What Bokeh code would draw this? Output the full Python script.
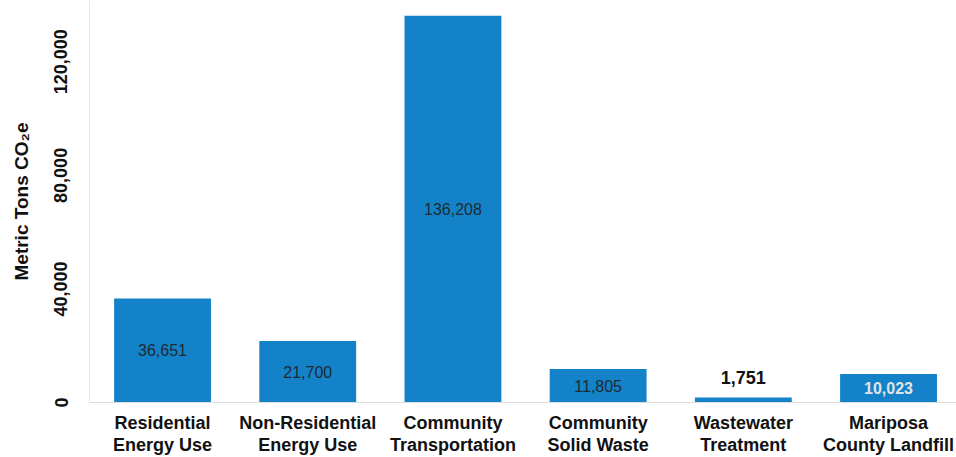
from bokeh.plotting import figure
from bokeh.models import ColumnDataSource, FixedTicker, NumeralTickFormatter, Range1d
from bokeh.embed import file_html
from bokeh.resources import INLINE
from bokeh.core.properties import value

categories = ["Residential\nEnergy Use", "Non-Residential\nEnergy Use",
              "Community\nTransportation", "Community\nSolid Waste",
              "Wastewater\nTreatment", "Mariposa\nCounty Landfill"]
emissions = [36651, 21700, 136208, 11805, 1751, 10023]
y_ticks = [0, 40000, 80000, 120000]

FONT = "Liberation Sans"
BLUE = "#1382C8"

idx = list(range(len(categories)))
labels = [f"{v:,}" for v in emissions]

p = figure(width=956, height=457, output_backend="svg", toolbar_location=None,
           x_range=Range1d(-0.503, 5.468), y_range=Range1d(0, 141600),
           min_border_left=89, min_border_right=0, min_border_top=0, min_border_bottom=52)
p.outline_line_color = None
p.xgrid.visible = False
p.ygrid.visible = False
p.background_fill_color = "white"

src = ColumnDataSource(dict(x=idx, top=emissions))
p.vbar(x="x", top="top", width=0.667, bottom=0, source=src,
       fill_color=BLUE, line_color=None)

# labels inside the taller bars
last = len(emissions) - 1
inside = [i for i, v in enumerate(emissions) if v > 5000]
in_src = ColumnDataSource(dict(
    x=[idx[i] for i in inside],
    y=[emissions[i] / 2 for i in inside],
    text=[labels[i] for i in inside],
    color=["#1f2a33" if i != last else "#e4e4e4" for i in inside],
    style=["normal" if i != last else "bold" for i in inside],
))
p.text(x="x", y="y", text="text", source=in_src, text_color="color",
       text_font=value(FONT), text_font_size="16px", text_font_style="style",
       text_align="center", text_baseline="middle")

# label above the short bar
outside = [i for i, v in enumerate(emissions) if v <= 5000]
out_src = ColumnDataSource(dict(
    x=[idx[i] for i in outside],
    y=[emissions[i] for i in outside],
    text=[labels[i] for i in outside],
))
p.text(x="x", y="y", text="text", source=out_src, text_color="#111111",
       text_font=value(FONT), text_font_size="18px", text_font_style="bold",
       text_align="center", text_baseline="middle", y_offset=-20)

# x axis
xa = p.xaxis[0]
xa.ticker = FixedTicker(ticks=idx)
xa.major_label_overrides = {i: c for i, c in zip(idx, categories)}
xa.major_tick_line_color = None
xa.minor_tick_line_color = None
xa.axis_line_color = "#dcdcdc"
xa.major_label_text_font = FONT
xa.major_label_text_font_style = "bold"
xa.major_label_text_font_size = "18px"
xa.major_label_text_line_height = 1.1
xa.major_label_text_color = "#111111"
xa.major_label_standoff = 4

# y axis
ya = p.yaxis[0]
ya.ticker = FixedTicker(ticks=y_ticks)
ya.formatter = NumeralTickFormatter(format="0,0")
ya.major_label_orientation = "vertical"
ya.major_tick_line_color = None
ya.minor_tick_line_color = None
ya.axis_line_color = "#e6e6e6"
ya.major_label_text_font = FONT
ya.major_label_text_font_style = "bold"
ya.major_label_text_font_size = "18px"
ya.major_label_text_color = "#111111"
ya.major_label_standoff = 16
ya.axis_label = "Metric Tons CO₂e"
ya.axis_label_text_font = FONT
ya.axis_label_text_font_style = "bold"
ya.axis_label_text_font_size = "19px"
ya.axis_label_text_color = "#111111"
ya.axis_label_standoff = 20

open("out.html", "w").write(file_html(p, INLINE))
